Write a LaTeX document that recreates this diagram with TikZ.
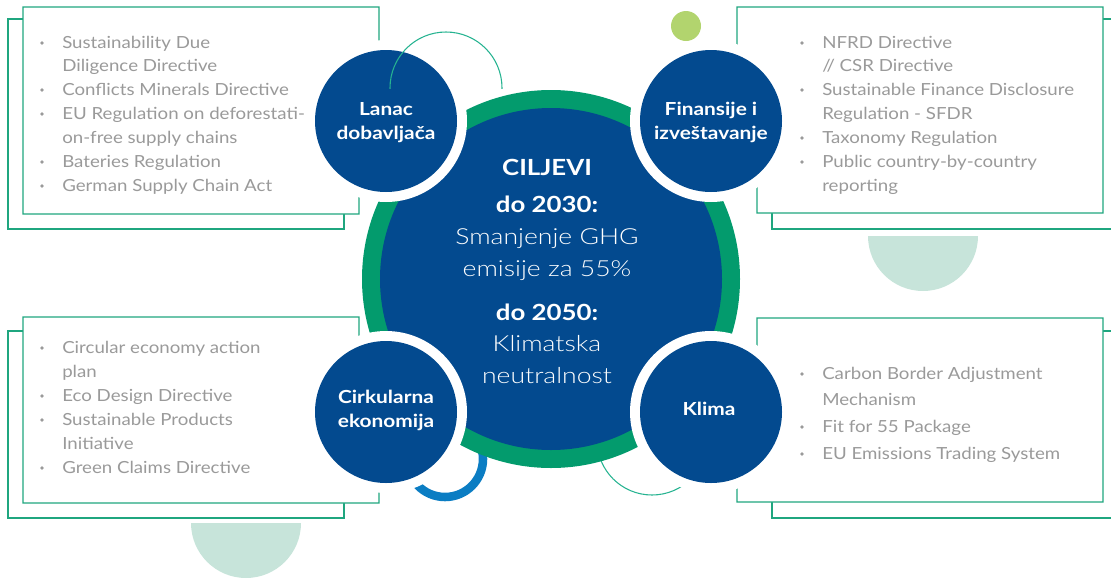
\documentclass[tikz,border=0pt]{standalone}
\usepackage{fontspec}
\setmainfont{Lato}[FakeStretch=1.12]
\newfontfamily\boldwide{Lato}[FakeStretch=1.16]
\newfontfamily\lightfont{Lato Light}[FakeStretch=1.2]
\definecolor{navy}{HTML}{034A8F}
\definecolor{ringgreen}{HTML}{039B6D}
\definecolor{boxline}{HTML}{1FA67F}
\definecolor{txtgray}{HTML}{9A9A9A}
\definecolor{dotgreen}{HTML}{B2D46E}
\definecolor{mint}{HTML}{C7E4DA}
\definecolor{arcblue}{HTML}{0B7DC3}
\definecolor{arcteal}{HTML}{26B391}
\tikzset{
  boxback/.style={draw=boxline, line width=1.1pt, fill=white},
  boxfront/.style={draw=boxline, line width=1.1pt, fill=white},
  itemtxt/.style={anchor=base west, inner sep=0pt, text=txtgray, font=\fontsize{12.5pt}{15pt}\selectfont},
  bul/.style={fill=txtgray},
  circtxt/.style={anchor=base, inner sep=0pt, text=white, font=\boldwide\fontsize{13.5pt}{16pt}\selectfont\bfseries},
  bigbold/.style={anchor=base, inner sep=0pt, text=white, font=\boldwide\fontsize{16.7pt}{20pt}\selectfont\bfseries},
  biglight/.style={anchor=base, inner sep=0pt, text=white, font=\lightfont\fontsize{16.6pt}{19pt}\selectfont},
}
\newcommand\itm[4]{% x, baseline, bullet?, text
  \ifx#3b\fill[bul] (#1-20,#2-5) circle[radius=1.8];\fi
  \node[itemtxt] at (#1,#2) {#4};}
\begin{document}
\begin{tikzpicture}[x=0.75pt,y=-0.75pt]
\useasboundingbox (0,0) rectangle (1111,579);
% background decorations
\begin{scope}\clip (860,236) rectangle (990,300);
  \fill[mint] (923,236) circle[radius=55];\end{scope}
\begin{scope}\clip (185,523) rectangle (310,590);
  \fill[mint] (246,523) circle[radius=55];\end{scope}
% boxes
\draw[boxback] (8,19) rectangle (344,229);
\draw[boxfront] (23,7) -- (379,7) -- (379,60) -- (359,180) -- (359,214) -- (23,214) -- cycle;
\draw[boxback] (772,19) rectangle (1125,229);
\draw[boxfront] (737,7) -- (1103,7) -- (1103,213) -- (757,213) -- (757,180) -- (737,60) -- cycle;
\draw[boxback] (8,331) rectangle (344,518);
\draw[boxfront] (23,317) -- (359,317) -- (359,350) -- (379,470) -- (379,503) -- (23,503) -- cycle;
\draw[boxback] (772,331) rectangle (1125,518);
\draw[boxfront] (757,318) -- (1103,318) -- (1103,502) -- (737,502) -- (737,470) -- (757,350) -- cycle;
% circles behind
\draw[arcblue, line width=6.4pt] (445,459) circle[radius=38];
\draw[arcteal, line width=0.8pt] (652,440) circle[radius=55];
% main circle
\fill[ringgreen] (551,279) circle[radius=189];
\fill[navy] (551,279) circle[radius=171];
% small circles
\foreach \cx/\cy in {386/121, 711/121, 386/412, 711/412}{
  \fill[white] (\cx,\cy) circle[radius=81];
  \fill[navy] (\cx,\cy) circle[radius=71];
}
% top arc
\begin{scope}\clip (380,20) rectangle (515,88);
  \draw[arcteal, line width=0.8pt] (446,88) circle[radius=56];\end{scope}
\fill[dotgreen] (686,26) circle[radius=15];
% circle labels
\node[circtxt] (l1) at (386,115) {Lanac};
\node[circtxt] (l2) at (386,139) {dobavljača};
\node[circtxt] (f1) at (711,115) {Finansije i};
\node[circtxt] (f2) at (711,139) {izveštavanje};
\node[circtxt] (c1) at (386,403) {Cirkularna};
\node[circtxt] (c2) at (386,427) {ekonomija};
\node[circtxt] (k1) at (709,415) {Klima};
% center text
\node[bigbold] (t1) at (547,175) {CILJEVI};
\node[bigbold] (t2) at (547,212) {do 2030:};
\node[biglight] (t3) at (547,244) {Smanjenje GHG};
\node[biglight] (t4) at (547,276) {emisije za 55\%};
\node[bigbold] (t5) at (547,320) {do 2050:};
\node[biglight] (t6) at (547,351) {Klimatska};
\node[biglight] (t7) at (547,383) {neutralnost};
% lists
\itm{62}{48}{b}{Sustainability Due}
\itm{62}{71}{n}{Diligence Directive}
\itm{62}{95}{b}{Conflicts Minerals Directive}
\itm{62}{119}{b}{EU Regulation on deforestati-}
\itm{62}{143}{n}{on-free supply chains}
\itm{62}{167}{b}{Bateries Regulation}
\itm{62}{191}{b}{German Supply Chain Act}
\itm{822}{48}{b}{NFRD Directive}
\itm{822}{71}{n}{// CSR Directive}
\itm{822}{95}{b}{Sustainable Finance Disclosure}
\itm{822}{119}{n}{Regulation - SFDR}
\itm{822}{143}{b}{Taxonomy Regulation}
\itm{822}{167}{b}{Public country-by-country}
\itm{822}{191}{n}{reporting}
\itm{62}{353}{b}{Circular economy action}
\itm{62}{377}{n}{plan}
\itm{62}{401}{b}{Eco Design Directive}
\itm{62}{425}{b}{Sustainable Products}
\itm{62}{449}{n}{Initiative}
\itm{62}{473}{b}{Green Claims Directive}
\itm{822}{379}{b}{Carbon Border Adjustment}
\itm{822}{405}{n}{Mechanism}
\itm{822}{432}{b}{Fit for 55 Package}
\itm{822}{459}{b}{EU Emissions Trading System}
\end{tikzpicture}
\end{document}
